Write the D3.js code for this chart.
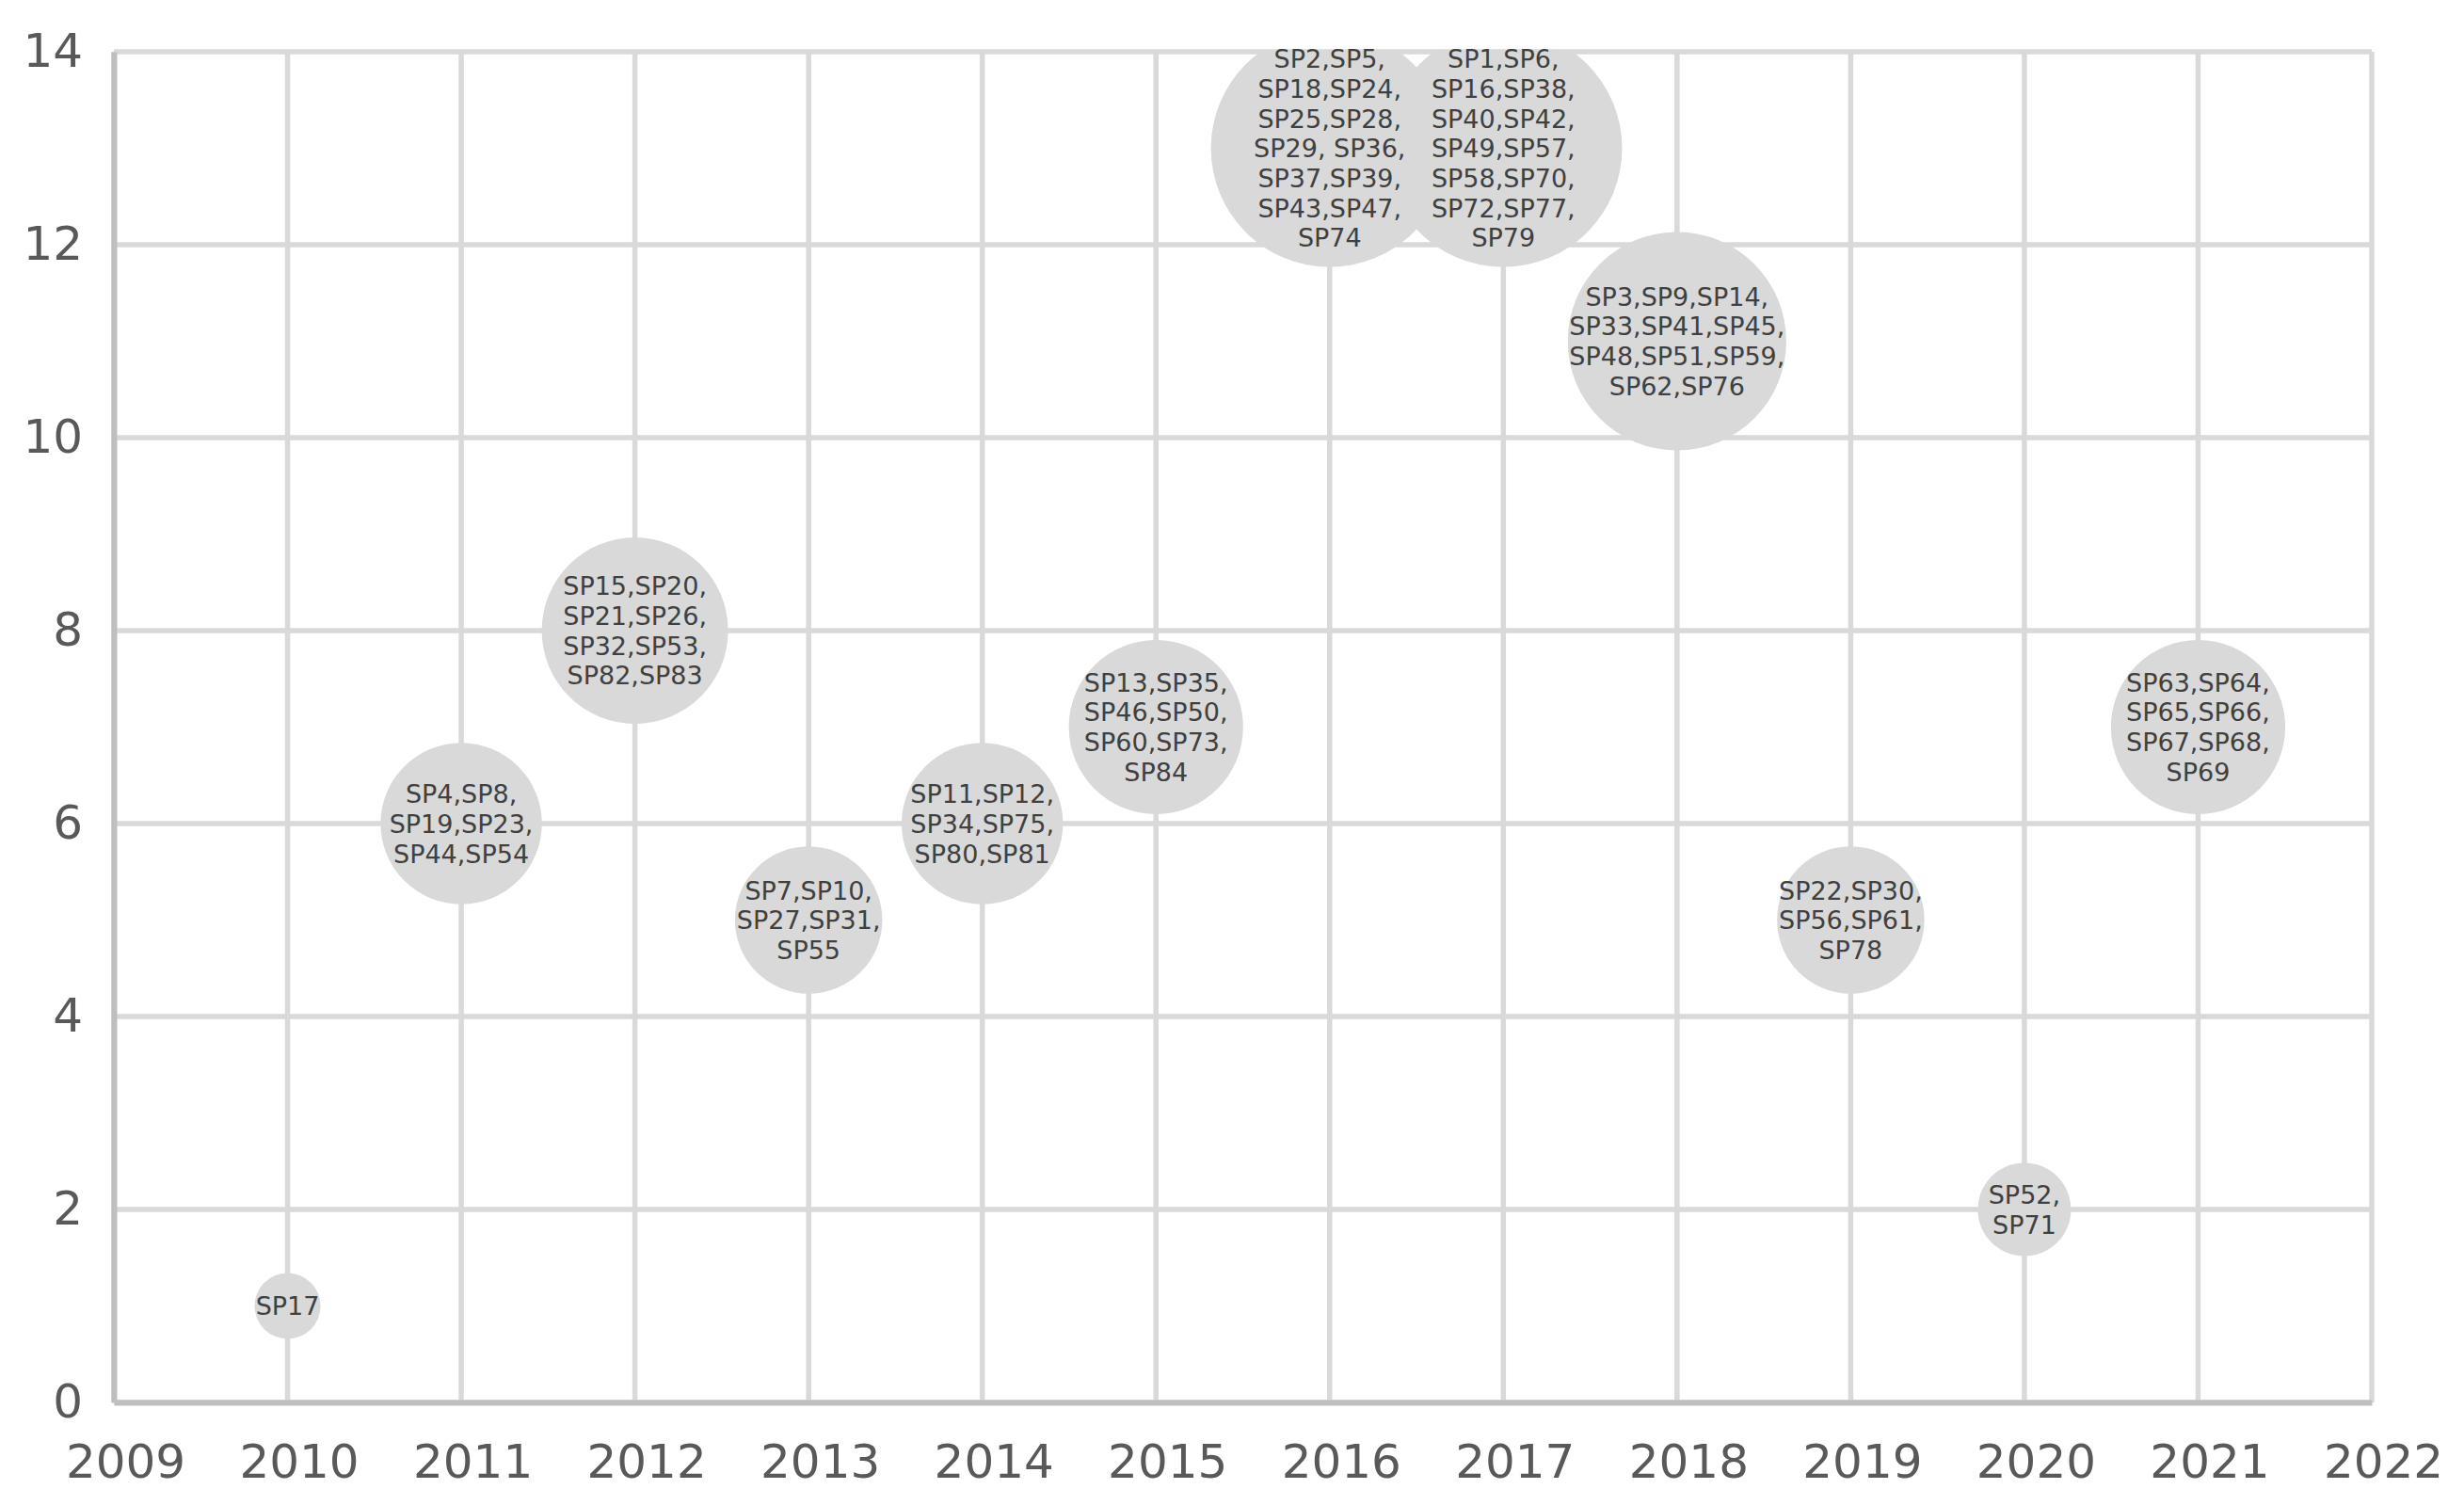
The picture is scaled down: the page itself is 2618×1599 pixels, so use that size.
<!DOCTYPE html>
<html>
<head>
<meta charset="utf-8">
<script src="https://cdn.jsdelivr.net/npm/d3@7"></script>
<style>
    body { margin: 0; background: #fff; }
    .tick text { font-family: 'DejaVu Sans', sans-serif; }
</style>
</head>
<body>
<div id="vis"></div>
<script>
// Publication year of each study group
var years = [2010, 2011, 2012, 2013, 2014, 2015, 2016, 2017, 2018, 2019, 2020, 2021];
// Number of studies per year (bubble value)
var counts = [1, 6, 8, 5, 6, 7, 13, 13, 11, 5, 2, 7];
// Study labels per bubble, one entry per text line
var labels = [
    ['SP17'],
    ['SP4,SP8,', 'SP19,SP23,', 'SP44,SP54'],
    ['SP15,SP20,', 'SP21,SP26,', 'SP32,SP53,', 'SP82,SP83'],
    ['SP7,SP10,', 'SP27,SP31,', 'SP55'],
    ['SP11,SP12,', 'SP34,SP75,', 'SP80,SP81'],
    ['SP13,SP35,', 'SP46,SP50,', 'SP60,SP73,', 'SP84'],
    ['SP2,SP5,', 'SP18,SP24,', 'SP25,SP28,', 'SP29, SP36,', 'SP37,SP39,', 'SP43,SP47,', 'SP74'],
    ['SP1,SP6,', 'SP16,SP38,', 'SP40,SP42,', 'SP49,SP57,', 'SP58,SP70,', 'SP72,SP77,', 'SP79'],
    ['SP3,SP9,SP14,', 'SP33,SP41,SP45,', 'SP48,SP51,SP59,', 'SP62,SP76'],
    ['SP22,SP30,', 'SP56,SP61,', 'SP78'],
    ['SP52,', 'SP71'],
    ['SP63,SP64,', 'SP65,SP66,', 'SP67,SP68,', 'SP69']
];
// Axis tick values
var xTicks = [2009, 2010, 2011, 2012, 2013, 2014, 2015, 2016, 2017, 2018, 2019, 2020, 2021, 2022];
var yTicks = [0, 2, 4, 6, 8, 10, 12, 14];

var data = years.map(function(y, i) {
    return { year: y, count: counts[i], lines: labels[i] };
});

var width = 2618, height = 1599;
var margin = { left: 121, top: 55, right: 98, bottom: 109 };
var drawWidth = width - margin.left - margin.right;
var drawHeight = height - margin.top - margin.bottom;

var svg = d3.select('#vis').append('svg')
    .attr('width', width)
    .attr('height', height);

var g = svg.append('g')
    .attr('transform', 'translate(' + margin.left + ',' + margin.top + ')');

var xScale = d3.scaleLinear().domain([2009, 2022]).range([0, drawWidth]);
var yScale = d3.scaleLinear().domain([0, 14]).range([drawHeight, 0]);
// bubble area proportional to value
var rScale = d3.scaleSqrt().domain([0, 1]).range([0, 35]);

g.append('clipPath').attr('id', 'plot-clip')
    .append('rect').attr('width', drawWidth).attr('height', drawHeight);

// Gridlines
g.selectAll('.hgrid').data(yTicks).enter().append('line')
    .attr('class', 'hgrid')
    .attr('x1', 0).attr('x2', drawWidth)
    .attr('y1', function(d) { return yScale(d); })
    .attr('y2', function(d) { return yScale(d); })
    .attr('stroke', '#d9d9d9').attr('stroke-width', 5.5);

g.selectAll('.vgrid').data(xTicks).enter().append('line')
    .attr('class', 'vgrid')
    .attr('y1', 0).attr('y2', drawHeight)
    .attr('x1', function(d) { return xScale(d); })
    .attr('x2', function(d) { return xScale(d); })
    .attr('stroke', '#d9d9d9').attr('stroke-width', 5.5);

// Bubbles
g.append('g').attr('clip-path', 'url(#plot-clip)')
    .selectAll('circle').data(data).enter().append('circle')
    .attr('cx', function(d) { return xScale(d.year); })
    .attr('cy', function(d) { return yScale(d.count); })
    .attr('r', function(d) { return rScale(d.count); })
    .attr('fill', '#d9d9d9');

// Bubble labels
var fontSize = 27, lineH = 31.7, capH = 0.729 * fontSize;
var texts = g.selectAll('.blabel').data(data).enter().append('text')
    .attr('class', 'blabel')
    .attr('font-family', 'DejaVu Sans, sans-serif')
    .attr('font-size', fontSize)
    .attr('fill', '#404040')
    .attr('text-anchor', 'middle');

texts.each(function(d) {
    var cx = xScale(d.year);
    var y0 = yScale(d.count) + capH / 2 - (d.lines.length - 1) * lineH / 2;
    d3.select(this).selectAll('tspan').data(d.lines).enter().append('tspan')
        .attr('x', cx)
        .attr('y', function(l, i) { return y0 + i * lineH; })
        .text(function(l) { return l; });
});

// Axes
var xAxis = d3.axisBottom(xScale).tickValues(xTicks).tickFormat(d3.format('d'))
    .tickSize(0).tickPadding(44);
var yAxis = d3.axisLeft(yScale).tickValues(yTicks).tickSize(0).tickPadding(33);

var xAxisG = g.append('g')
    .attr('transform', 'translate(0,' + drawHeight + ')')
    .call(xAxis);
var yAxisG = g.append('g').call(yAxis);

[xAxisG, yAxisG].forEach(function(a) {
    a.select('.domain').attr('stroke', '#bfbfbf').attr('stroke-width', 6);
    a.selectAll('.tick text')
        .attr('font-size', 50)
        .attr('fill', '#595959');
});
xAxisG.selectAll('.tick text').attr('dx', 12);
yAxisG.selectAll('.tick text').attr('dy', '0.3em');
</script>
</body>
</html>
